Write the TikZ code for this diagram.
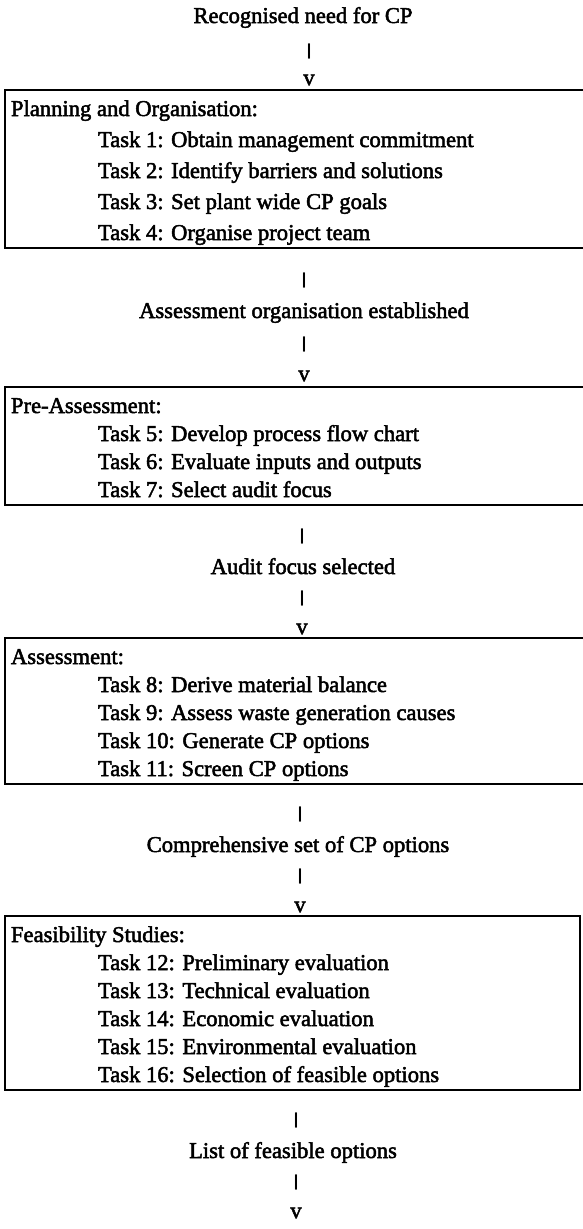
\documentclass[tikz,border=0pt]{standalone}
\usepackage{fontspec}
\setmainfont{Liberation Serif}[FakeBold=2.2]
\newfontfamily\barfont{Liberation Sans}
\begin{document}
\begin{tikzpicture}[x=1pt,y=-1pt,
  txt/.style={inner sep=0pt, outer sep=0pt, font=\fontsize{22.6}{27}\selectfont},
  lbl/.style={txt, anchor=base},
  hd/.style={txt, anchor=base west},
  task/.style={txt, anchor=base west},
  barsym/.style={inner sep=0pt, anchor=center, font=\barfont\bfseries\fontsize{16}{16}\selectfont},
  vsym/.style={txt, anchor=center},
  stage/.style={draw, line width=1.8pt, inner sep=0pt, outer sep=0pt, anchor=north west}]
\useasboundingbox (0,0) rectangle (582,1229);
% top
\node[lbl] (t0) at (303,23) {Recognised need for CP};
\node[barsym] (a0) at (309,51) {|};
\node[vsym] (v0) at (309,80) {v};
% box 1
\node[stage, minimum width=600pt, minimum height=158pt] (b1) at (5,90) {};
\node[hd] (h1) at (11,116) {Planning and Organisation:};
\node[task] (k1) at (98,147) {Task 1: Obtain management commitment};
\node[task] (k2) at (98,178) {Task 2: Identify barriers and solutions};
\node[task] (k3) at (98,209) {Task 3: Set plant wide CP goals};
\node[task] (k4) at (98,240) {Task 4: Organise project team};
\node[barsym] (a1) at (304,280) {|};
\node[lbl] (t1) at (304,318) {Assessment organisation established};
\node[barsym] (c1) at (304,344) {|};
\node[vsym] (v1) at (304,376) {v};
% box 2
\node[stage, minimum width=600pt, minimum height=118pt] (b2) at (5,387) {};
\node[hd] (h2) at (11,413) {Pre-Assessment:};
\node[task] (k5) at (98,441) {Task 5: Develop process flow chart};
\node[task] (k6) at (98,469) {Task 6: Evaluate inputs and outputs};
\node[task] (k7) at (98,497) {Task 7: Select audit focus};
\node[barsym] (a2) at (302,536) {|};
\node[lbl] (t2) at (303,574) {Audit focus selected};
\node[barsym] (c2) at (302,598) {|};
\node[vsym] (v2) at (302,629) {v};
% box 3
\node[stage, minimum width=600pt, minimum height=146pt] (b3) at (5,638) {};
\node[hd] (h3) at (11,664) {Assessment:};
\node[task] (k8) at (98,692) {Task 8: Derive material balance};
\node[task] (k9) at (98,720) {Task 9: Assess waste generation causes};
\node[task] (k10) at (98,748) {Task 10: Generate CP options};
\node[task] (k11) at (98,776) {Task 11: Screen CP options};
\node[barsym] (a3) at (300,814) {|};
\node[lbl] (t3) at (298,852) {Comprehensive set of CP options};
\node[barsym] (c3) at (300,876) {|};
\node[vsym] (v3) at (300,907) {v};
% box 4
\node[stage, minimum width=575pt, minimum height=174pt] (b4) at (5,916) {};
\node[hd] (h4) at (11,942) {Feasibility Studies:};
\node[task] (k12) at (98,970) {Task 12: Preliminary evaluation};
\node[task] (k13) at (98,998) {Task 13: Technical evaluation};
\node[task] (k14) at (98,1026) {Task 14: Economic evaluation};
\node[task] (k15) at (98,1054) {Task 15: Environmental evaluation};
\node[task] (k16) at (98,1082) {Task 16: Selection of feasible options};
\node[barsym] (a4) at (296,1120) {|};
\node[lbl] (t4) at (293,1158) {List of feasible options};
\node[barsym] (c4) at (296,1182) {|};
\node[vsym] (v4) at (296,1213) {v};
\end{tikzpicture}
\end{document}
